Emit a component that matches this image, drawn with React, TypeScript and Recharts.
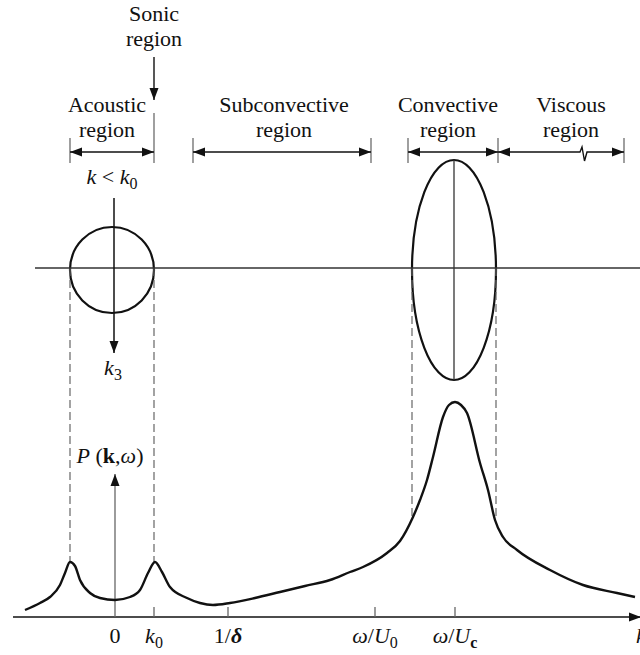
import React from "react";
import {
  LineChart,
  Line,
  XAxis,
  YAxis,
  ReferenceLine,
  ReferenceArea,
  ReferenceDot,
} from "recharts";

const W = 640;
const H = 655;
const FONT = "'Liberation Serif', 'DejaVu Serif', serif";
const INK = "#111";
const GREY = "#666";

// P(k, ω) along k1
const specK = [
  -9.0, -7.5, -6.5, -5.5, -5.0, -4.5, -4.0, -3.5, -2.5, -1.5, 0, 1.5, 2.5, 3.3,
  4.0, 4.7, 5.5, 7.2, 8.5, 9.8, 11.5, 14.0, 16.5, 19.0, 21.5, 23.5, 24.8, 27.2,
  28.5, 29.8, 30.5, 31.2, 31.8, 32.8, 33.4, 34.0, 34.6, 35.2, 36.5, 37.3, 38.0,
  38.8, 40.2, 43.5, 46.8, 50.2, 52.0,
];
const specP = [
  0.7, 1.4, 2.0, 3.2, 4.4, 5.5, 5.1, 3.7, 2.4, 1.9, 1.7, 2.0, 2.7, 4.4, 5.5,
  4.5, 3.0, 1.9, 1.4, 1.2, 1.4, 1.9, 2.5, 3.1, 3.7, 4.5, 5.0, 6.4, 7.6, 10.0,
  11.7, 13.7, 16.0, 20.0, 21.2, 21.5, 21.2, 20.4, 15.4, 12.7, 9.7, 8.0, 6.7,
  4.7, 3.2, 2.4, 2.0,
];

const kDomain = [-11.5, 52.5];
const pDomain = [0, 61.7];

// marks on the k1 axis
const tickValues = [0, 3.9, 11.3, 26.0, 34.0, 52.5];
const tickNames = ["0", "k0", "1/δ", "ω/U0", "ω/Uc", "k"];
const tickMarks = [3.9, 11.3, 26.0, 34.0];

// regions across the top
const regionNames = ["Acoustic", "Subconvective", "Convective", "Viscous"];
const regionFrom = [-4.5, 7.8, 29.3, 38.3];
const regionTo = [3.9, 25.6, 38.3, 50.9];
const regionMid = [-0.8, 16.9, 33.3, 45.6];
const barK = [-4.5, 3.9, 7.8, 25.6, 29.3, 38.3, 50.9];
const barTop = [47.9, 50.4, 47.9, 47.9, 47.9, 47.9, 47.9];
const viscousBreak = 46.8;

// wavenumber-plane sketch: circle (k < k0) and convective ellipse
const planeLevel = 34.9;
const circleK = [-4.5, 3.9];
const circleK3 = [30.4, 39.0];
const ellipseK = [29.7, 38.1];
const ellipseK3 = [23.7, 45.7];
const ellipseAxis = 33.9;

const spectrum = specK.map((k, i) => ({ k, p: specP[i] }));

function headPts(x: number, y: number, fx: number, fy: number, len = 12, half = 4.5) {
  const dx = x - fx;
  const dy = y - fy;
  const d = Math.hypot(dx, dy) || 1;
  const ux = dx / d;
  const uy = dy / d;
  const bx = x - ux * len;
  const by = y - uy * len;
  return `${x},${y} ${bx - uy * half},${by + ux * half} ${bx + uy * half},${by - ux * half}`;
}

const arrow =
  (ends: "none" | "end" | "both", color = INK, width = 1.4, breakAt?: number) =>
  (p: any) => {
    const { x1, y1, x2, y2 } = p;
    let d = `M${x1},${y1} L${x2},${y2}`;
    if (breakAt !== undefined) {
      const zx = x1 + (x2 - x1) * breakAt;
      d = `M${x1},${y1} L${zx - 3},${y1} L${zx - 1},${y1 - 5} L${zx + 1.5},${y1 + 9} L${zx + 4},${y1} L${x2},${y2}`;
    }
    return (
      <g>
        <path d={d} fill="none" stroke={color} strokeWidth={width} />
        {ends !== "none" && <polygon points={headPts(x2, y2, x1, y1)} fill={INK} />}
        {ends === "both" && <polygon points={headPts(x1, y1, x2, y2)} fill={INK} />}
      </g>
    );
  };

const note =
  (content: React.ReactNode, size = 22, anchor: "middle" | "start" = "middle") =>
  (p: any) => (
    <text
      x={p.cx}
      y={p.cy}
      textAnchor={anchor}
      fontFamily={FONT}
      fontSize={size}
      fill={INK}
    >
      {content}
    </text>
  );

const oval = (p: any) => (
  <ellipse
    cx={p.x + p.width / 2}
    cy={p.y + p.height / 2}
    rx={Math.abs(p.width) / 2}
    ry={Math.abs(p.height) / 2}
    fill="none"
    stroke={INK}
    strokeWidth={2.2}
  />
);

const it = (s: string) => <tspan fontStyle="italic">{s}</tspan>;

function tickLabel(name: string) {
  switch (name) {
    case "k0":
      return (
        <>
          {it("k")}
          <tspan dy={5} fontSize={16}>0</tspan>
        </>
      );
    case "1/δ":
      return (
        <>
          1/<tspan fontStyle="italic" fontWeight="bold">δ</tspan>
        </>
      );
    case "ω/U0":
      return (
        <>
          {it("ω")}/{it("U")}
          <tspan dy={5} fontSize={16}>0</tspan>
        </>
      );
    case "ω/Uc":
      return (
        <>
          {it("ω")}/{it("U")}
          <tspan dy={5} fontSize={16} fontWeight="bold">c</tspan>
        </>
      );
    case "k":
      return it("k");
    default:
      return name;
  }
}

function KTick(props: any) {
  const { x, y, payload } = props;
  const i = tickValues.indexOf(payload.value);
  const name = tickNames[i] ?? "";
  const last = i === tickValues.length - 1;
  return (
    <text
      x={last ? x - 4 : x}
      y={y + 26}
      textAnchor={last ? "start" : "middle"}
      fontFamily={FONT}
      fontSize={22}
      fill={INK}
    >
      {tickLabel(name)}
    </text>
  );
}

export default function App() {
  return (
    <div style={{ position: "absolute", left: 0, top: 0, background: "#fff" }}>
      <LineChart
        width={W}
        height={H}
        data={spectrum}
        margin={{ top: 0, right: 0, bottom: 0, left: 0 }}
      >
        <XAxis
          dataKey="k"
          type="number"
          domain={kDomain}
          allowDataOverflow
          ticks={tickValues}
          interval={0}
          axisLine={false}
          tickLine={false}
          tickSize={0}
          tickMargin={0}
          height={38}
          tick={(p: any) => <KTick {...p} />}
        />
        <YAxis type="number" domain={pDomain} allowDataOverflow hide />

        {/* k1 axis and P axis */}
        <ReferenceLine
          segment={[{ x: -10.2, y: 0 }, { x: 52.6, y: 0 }]}
          ifOverflow="visible"
          shape={arrow("end", INK, 1.6)}
        />
        <ReferenceLine
          segment={[{ x: 0, y: 0 }, { x: 0, y: 14.3 }]}
          ifOverflow="visible"
          shape={arrow("end", GREY, 1.3)}
        />
        {tickMarks.map((k) => (
          <ReferenceLine
            key={`t${k}`}
            segment={[{ x: k, y: 0 }, { x: k, y: 1.0 }]}
            ifOverflow="visible"
            shape={arrow("none", GREY, 1.3)}
          />
        ))}

        {/* dashed projections */}
        {[circleK[0], circleK[1]].map((k) => (
          <ReferenceLine
            key={`dc${k}`}
            segment={[{ x: k, y: planeLevel }, { x: k, y: 5.5 }]}
            ifOverflow="visible"
            stroke={GREY}
            strokeWidth={1.2}
            strokeDasharray="8 4"
          />
        ))}
        {[ellipseK[0], ellipseK[1]].map((k) => (
          <ReferenceLine
            key={`de${k}`}
            segment={[{ x: k, y: planeLevel }, { x: k, y: 10.0 }]}
            ifOverflow="visible"
            stroke={GREY}
            strokeWidth={1.2}
            strokeDasharray="8 4"
          />
        ))}

        {/* wavenumber plane */}
        <ReferenceLine
          segment={[{ x: -8.0, y: planeLevel }, { x: 52.5, y: planeLevel }]}
          ifOverflow="visible"
          stroke="#333"
          strokeWidth={1.5}
        />
        <ReferenceArea
          x1={circleK[0]}
          x2={circleK[1]}
          y1={circleK3[0]}
          y2={circleK3[1]}
          ifOverflow="visible"
          shape={oval}
        />
        <ReferenceArea
          x1={ellipseK[0]}
          x2={ellipseK[1]}
          y1={ellipseK3[0]}
          y2={ellipseK3[1]}
          ifOverflow="visible"
          shape={oval}
        />
        <ReferenceLine
          segment={[{ x: ellipseAxis, y: ellipseK3[0] }, { x: ellipseAxis, y: ellipseK3[1] }]}
          ifOverflow="visible"
          stroke="#333"
          strokeWidth={1.3}
        />
        <ReferenceLine
          segment={[{ x: -0.1, y: 41.9 }, { x: -0.1, y: 26.4 }]}
          ifOverflow="visible"
          shape={arrow("end", INK, 1.5)}
        />

        {/* sonic pointer */}
        <ReferenceLine
          segment={[{ x: 3.9, y: 56.0 }, { x: 3.9, y: 51.7 }]}
          ifOverflow="visible"
          shape={arrow("end", INK, 1.4)}
        />

        {/* region brackets */}
        {barK.map((k, i) => (
          <ReferenceLine
            key={`b${i}`}
            segment={[{ x: k, y: 45.4 }, { x: k, y: barTop[i] }]}
            ifOverflow="visible"
            shape={arrow("none", "#777", 1.4)}
          />
        ))}
        {regionNames.map((name, i) => (
          <ReferenceLine
            key={`r${name}`}
            segment={[{ x: regionFrom[i], y: 46.5 }, { x: regionTo[i], y: 46.5 }]}
            ifOverflow="visible"
            shape={arrow(
              "both",
              INK,
              1.4,
              name === "Viscous"
                ? (viscousBreak - regionFrom[i]) / (regionTo[i] - regionFrom[i])
                : undefined
            )}
          />
        ))}
        {regionNames.map((name, i) => (
          <ReferenceDot
            key={`n${name}`}
            x={regionMid[i]}
            y={50.5}
            r={0}
            ifOverflow="visible"
            shape={note(name)}
          />
        ))}
        {regionNames.map((name, i) => (
          <ReferenceDot
            key={`g${name}`}
            x={regionMid[i]}
            y={48.0}
            r={0}
            ifOverflow="visible"
            shape={note("region")}
          />
        ))}
        <ReferenceDot x={3.9} y={59.6} r={0} ifOverflow="visible" shape={note("Sonic")} />
        <ReferenceDot x={3.9} y={57.1} r={0} ifOverflow="visible" shape={note("region")} />

        {/* math labels */}
        <ReferenceDot
          x={-0.3}
          y={43.3}
          r={0}
          ifOverflow="visible"
          shape={note(
            <>
              {it("k")} {"<"} {it("k")}
              <tspan dy={5} fontSize={16}>0</tspan>
            </>,
            22
          )}
        />
        <ReferenceDot
          x={-0.2}
          y={24.2}
          r={0}
          ifOverflow="visible"
          shape={note(
            <>
              {it("k")}
              <tspan dy={5} fontSize={16}>3</tspan>
            </>,
            22
          )}
        />
        <ReferenceDot
          x={-0.5}
          y={15.4}
          r={0}
          ifOverflow="visible"
          shape={note(
            <>
              {it("P")} (<tspan fontWeight="bold">k</tspan>,{it("ω")})
            </>,
            22
          )}
        />

        <Line
          dataKey="p"
          type="monotone"
          stroke={INK}
          strokeWidth={2.4}
          dot={false}
          activeDot={false}
          isAnimationActive={false}
        />
      </LineChart>
    </div>
  );
}
